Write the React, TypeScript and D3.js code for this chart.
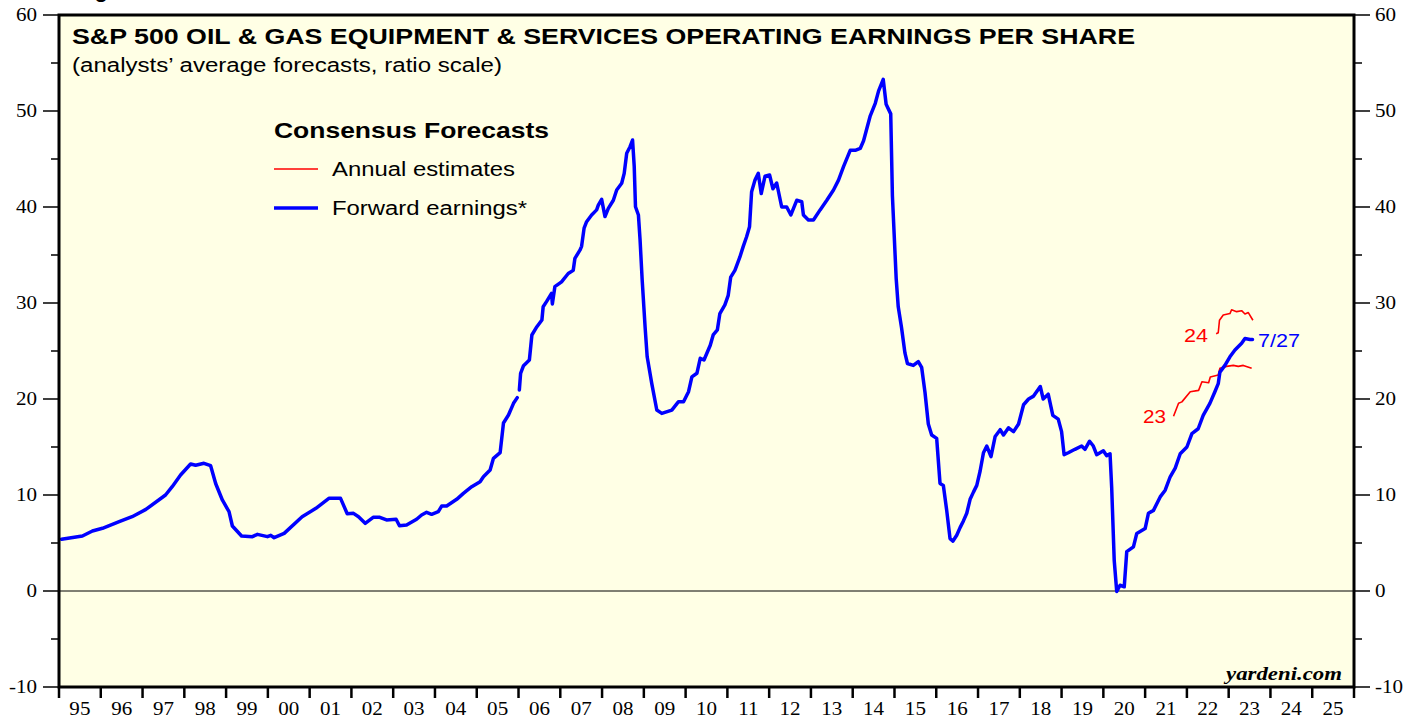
import React from "react";
import * as d3 from "d3";

// Forward earnings (decimal year, value); null marks a break in the series
const fwdDates = [
  1995.06, 1995.56, 1995.8, 1996.04, 1996.44, 1996.75, 1997.08, 1997.55, 1997.71, 1997.91,
  1998.15, 1998.27, 1998.47, 1998.63, 1998.75, 1998.91, 1999.07, 1999.15, 1999.37, 1999.63,
  1999.75, 1999.99, 2000.07, 2000.15, 2000.39, 2000.82, 2001.15, 2001.46, 2001.74, 2001.9,
  2002.05, 2002.17, 2002.33, 2002.52, 2002.68, 2002.84, 2003.07, 2003.15, 2003.32, 2003.56,
  2003.68, 2003.8, 2003.92, 2004.08, 2004.16, 2004.28, 2004.52, 2004.68, 2004.88, 2005.08,
  2005.16, 2005.32, 2005.4, 2005.56, 2005.64, 2005.76, 2005.88, 2005.97, 2005.995, 2006.02,
  2006.05, 2006.12, 2006.26, 2006.32, 2006.44, 2006.56, 2006.59, 2006.67, 2006.79, 2006.81,
  2006.87, 2007.03, 2007.19, 2007.31, 2007.35, 2007.47, 2007.51, 2007.57, 2007.63, 2007.75,
  2007.87, 2007.91, 2007.99, 2008.07, 2008.15, 2008.27, 2008.35, 2008.47, 2008.53, 2008.59,
  2008.67, 2008.73, 2008.77, 2008.8, 2008.87, 2008.91, 2008.96, 2009.03, 2009.08, 2009.19,
  2009.31, 2009.43, 2009.67, 2009.83, 2009.95, 2010.07, 2010.15, 2010.27, 2010.35, 2010.44,
  2010.59, 2010.66, 2010.76, 2010.82, 2010.94, 2011.02, 2011.08, 2011.18, 2011.3, 2011.38,
  2011.46, 2011.53, 2011.58, 2011.66, 2011.74, 2011.81, 2011.9, 2012.01, 2012.09, 2012.18,
  2012.3, 2012.42, 2012.52, 2012.66, 2012.78, 2012.82, 2012.94, 2013.06, 2013.22, 2013.38,
  2013.54, 2013.66, 2013.78, 2013.94, 2014.06, 2014.18, 2014.26, 2014.34, 2014.42, 2014.54,
  2014.62, 2014.73, 2014.8, 2014.91, 2014.95, 2015.04, 2015.09, 2015.17, 2015.25, 2015.31,
  2015.45, 2015.57, 2015.65, 2015.73, 2015.81, 2015.89, 2016.01, 2016.09, 2016.17, 2016.25,
  2016.33, 2016.4, 2016.49, 2016.57, 2016.65, 2016.73, 2016.81, 2016.89, 2016.97, 2017.05,
  2017.13, 2017.21, 2017.31, 2017.41, 2017.53, 2017.61, 2017.73, 2017.85, 2017.97, 2018.09,
  2018.21, 2018.33, 2018.49, 2018.56, 2018.68, 2018.79, 2018.92, 2019.0, 2019.06, 2019.16,
  2019.32, 2019.48, 2019.56, 2019.67, 2019.76, 2019.84, 2020.0, 2020.08, 2020.16, 2020.2,
  2020.26, 2020.32, 2020.4, 2020.5, 2020.56, 2020.72, 2020.8, 2021.0, 2021.08, 2021.2,
  2021.36, 2021.48, 2021.6, 2021.72, 2021.84, 2022.0, 2022.12, 2022.27, 2022.39, 2022.55,
  2022.67, 2022.75, 2022.79, 2022.91, 2023.03, 2023.15, 2023.31, 2023.39, 2023.51, 2023.57,
];
const fwdValues: (number | null)[] = [
  5.39, 5.73, 6.25, 6.53, 7.22, 7.74, 8.5, 10.0, 10.87, 12.08,
  13.23, 13.1, 13.3, 13.05, 11.2, 9.48, 8.26, 6.77, 5.73, 5.66,
  5.9, 5.66, 5.8, 5.55, 6.0, 7.74, 8.61, 9.65, 9.65, 8.05,
  8.09, 7.74, 7.05, 7.67, 7.67, 7.4, 7.47, 6.8, 6.88, 7.47,
  7.92, 8.2, 7.99, 8.26, 8.85, 8.85, 9.55, 10.17, 10.87, 11.39,
  11.91, 12.6, 13.82, 14.41, 17.5, 18.33, 19.55, 20.14, null, 20.94,
  22.67, 23.47, 24.06, 26.67, 27.53, 28.23, 29.61, 30.14, 31.0, 29.9,
  31.7, 32.2, 33.07, 33.4, 34.65, 35.5, 35.9, 37.8, 38.47, 39.17,
  39.7, 40.2, 40.8, 39.0, 39.86, 40.7, 41.77, 42.47, 43.5, 45.6,
  46.28, 46.98, 44.2, 40.03, 39.17, 36.56, 32.4, 27.5, 24.4, 21.6,
  18.85, 18.5, 18.85, 19.72, 19.72, 20.76, 22.3, 22.68, 24.24, 24.06,
  25.6, 26.67, 27.2, 28.9, 29.8, 30.8, 32.7, 33.4, 34.8, 35.9,
  36.9, 37.95, 41.6, 42.8, 43.5, 41.4, 43.2, 43.33, 41.9, 42.5,
  40.0, 40.0, 39.17, 40.7, 40.55, 39.17, 38.65, 38.65, 39.7, 40.7,
  41.77, 42.8, 44.2, 45.9, 45.9, 46.1, 46.9, 48.2, 49.5, 50.8,
  52.1, 53.3, 50.7, 49.7, 41.2, 32.6, 29.6, 27.4, 24.8, 23.7,
  23.5, 23.9, 23.3, 20.7, 17.4, 16.25, 15.9, 11.2, 11.0, 8.4,
  5.46, 5.2, 5.8, 6.6, 7.3, 8.1, 9.55, 10.3, 11.0, 12.5,
  14.4, 15.1, 14.0, 16.1, 16.8, 16.25, 17.0, 16.6, 17.4, 19.4,
  20.0, 20.3, 21.3, 20.0, 20.5, 18.3, 17.9, 16.6, 14.2, 14.4,
  14.76, 15.1, 14.76, 15.6, 15.1, 14.2, 14.6, 14.1, 14.3, 10.7,
  3.2, -0.05, 0.6, 0.44, 4.1, 4.6, 6.0, 6.5, 8.1, 8.4,
  9.8, 10.5, 11.9, 12.8, 14.3, 15.0, 16.4, 16.9, 18.3, 19.55,
  20.76, 21.6, 22.8, 23.5, 24.4, 25.1, 25.8, 26.3, 26.2, 26.2,
];

// Annual consensus estimates
const est23Dates = [2021.68, 2021.8, 2021.88, 2022.08, 2022.28, 2022.36, 2022.52, 2022.56, 2022.75, 2022.79, 2022.95, 2023.11, 2023.23, 2023.35, 2023.55];
const est23Values = [18.2, 19.55, 19.7, 20.76, 20.9, 21.8, 21.7, 22.3, 22.5, 23.2, 23.4, 23.5, 23.4, 23.5, 23.2];
const est24Dates = [2022.7, 2022.75, 2022.78, 2022.87, 2023.03, 2023.07, 2023.19, 2023.31, 2023.39, 2023.47, 2023.58];
const est24Values = [26.8, 26.9, 28.2, 28.75, 28.9, 29.3, 29.1, 29.2, 28.85, 29.0, 28.2];

const yMajorTicks = [-10, 0, 10, 20, 30, 40, 50, 60];
const yMinorTicks = [-5, 5, 15, 25, 35, 45, 55];
const yearLabels = ["95", "96", "97", "98", "99", "00", "01", "02", "03", "04", "05", "06", "07", "08", "09", "10", "11", "12", "13", "14", "15", "16", "17", "18", "19", "20", "21", "22", "23", "24", "25"];

const W = 1419;
const H = 719;
const L = 59, R = 1354, T = 15, B = 687;
const SANS = "Arial, 'Liberation Sans', Helvetica, sans-serif";
const SERIF = "'Times New Roman', 'Liberation Serif', serif";
const SX = 1.17; // horizontal stretch of axis label glyphs

export default function App() {
  const x = d3.scaleLinear().domain([1995, 2026]).range([L, R]);
  const y = d3.scaleLinear().domain([-10, 60]).range([B, T]);

  type P = [number, number | null];
  const line = d3
    .line<P>()
    .defined((d) => d[1] !== null)
    .x((d) => x(d[0]))
    .y((d) => y(d[1] as number));

  const fwd: P[] = fwdDates.map((d, i) => [d, fwdValues[i]]);
  const e23: P[] = est23Dates.map((d, i) => [d, est23Values[i]]);
  const e24: P[] = est24Dates.map((d, i) => [d, est24Values[i]]);

  const yearStarts = d3.range(1995, 2027);

  return (
    <svg
      width={W}
      height={H}
      style={{ position: "absolute", left: 0, top: 0, display: "block" }}
    >
      <rect x={0} y={0} width={W} height={H} fill="#ffffff" />
      <text x={75} y={-3} fontFamily={SANS} fontWeight="bold" fontSize={22} fill="#000">Figure</text>
      <rect x={L} y={T} width={R - L} height={B - T} fill="#FFFFE5" />

      {/* zero line */}
      <line x1={L} x2={R} y1={y(0)} y2={y(0)} stroke="#000" strokeWidth={1} />

      {/* Y ticks left and right */}
      {yMajorTicks.map((t) => (
        <g key={"maj" + t}>
          <line x1={L - 16} x2={L} y1={y(t)} y2={y(t)} stroke="#000" strokeWidth={1.5} />
          <line x1={R} x2={R + 16} y1={y(t)} y2={y(t)} stroke="#000" strokeWidth={1.5} />
          <g transform={`translate(37,${y(t)}) scale(${SX},1)`}>
            <text dy="0.35em" textAnchor="end" fontFamily={SERIF} fontSize={18} fill="#000">{t}</text>
          </g>
          <g transform={`translate(1375,${y(t)}) scale(${SX},1)`}>
            <text dy="0.35em" textAnchor="start" fontFamily={SERIF} fontSize={18} fill="#000">{t}</text>
          </g>
        </g>
      ))}
      {yMinorTicks.map((t) => (
        <g key={"min" + t}>
          <line x1={L - 8} x2={L} y1={y(t)} y2={y(t)} stroke="#000" strokeWidth={1.5} />
          <line x1={R} x2={R + 8} y1={y(t)} y2={y(t)} stroke="#000" strokeWidth={1.5} />
        </g>
      ))}

      {/* X ticks and labels */}
      {yearStarts.map((yr) => (
        <line key={"xt" + yr} x1={x(yr)} x2={x(yr)} y1={B} y2={B + 11} stroke="#000" strokeWidth={2.5} />
      ))}
      {yearLabels.map((lab, i) => (
        <g key={"xl" + lab} transform={`translate(${x(1995 + i + 0.5)},715) scale(${SX},1)`}>
          <text textAnchor="middle" fontFamily={SERIF} fontSize={18} fill="#000">{lab}</text>
        </g>
      ))}

      {/* series */}
      <path d={line(e23) || ""} fill="none" stroke="#FF0000" strokeWidth={1.6} strokeLinejoin="round" />
      <path d={line(e24) || ""} fill="none" stroke="#FF0000" strokeWidth={1.6} strokeLinejoin="round" />
      <path d={line(fwd) || ""} fill="none" stroke="#0000FF" strokeWidth={3.5} strokeLinejoin="round" strokeLinecap="round" />

      {/* annotations */}
      <text x={1184} y={342} textLength={24} lengthAdjust="spacingAndGlyphs" fontFamily={SANS} fontSize={19} fill="#FF0000">24</text>
      <text x={1143} y={423} textLength={23} lengthAdjust="spacingAndGlyphs" fontFamily={SANS} fontSize={19} fill="#FF0000">23</text>
      <text x={1258} y={347} textLength={42} lengthAdjust="spacingAndGlyphs" fontFamily={SANS} fontSize={19} fill="#0000FF">7/27</text>

      {/* border */}
      <rect x={L} y={T} width={R - L} height={B - T} fill="none" stroke="#000" strokeWidth={3} />

      {/* titles */}
      <text x={72} y={44} textLength={1063} lengthAdjust="spacingAndGlyphs" fontFamily={SANS} fontWeight="bold" fontSize={22} fill="#000">S&amp;P 500 OIL &amp; GAS EQUIPMENT &amp; SERVICES OPERATING EARNINGS PER SHARE</text>
      <text x={72} y={72} textLength={430} lengthAdjust="spacingAndGlyphs" fontFamily={SANS} fontSize={19.5} fill="#000">(analysts’ average forecasts, ratio scale)</text>

      {/* legend */}
      <text x={274} y={138} textLength={275} lengthAdjust="spacingAndGlyphs" fontFamily={SANS} fontWeight="bold" fontSize={22} fill="#000">Consensus Forecasts</text>
      <line x1={274} x2={318} y1={169} y2={169} stroke="#FF0000" strokeWidth={1.6} />
      <text x={332} y={176} textLength={183} lengthAdjust="spacingAndGlyphs" fontFamily={SANS} fontSize={19.5} fill="#000">Annual estimates</text>
      <line x1={274} x2={318} y1={208} y2={208} stroke="#0000FF" strokeWidth={3.5} />
      <text x={332} y={215} textLength={195} lengthAdjust="spacingAndGlyphs" fontFamily={SANS} fontSize={19.5} fill="#000">Forward earnings*</text>

      <text x={1226} y={680} textLength={116} lengthAdjust="spacingAndGlyphs" fontFamily={SERIF} fontWeight="bold" fontStyle="italic" fontSize={19} fill="#000">yardeni.com</text>
    </svg>
  );
}
